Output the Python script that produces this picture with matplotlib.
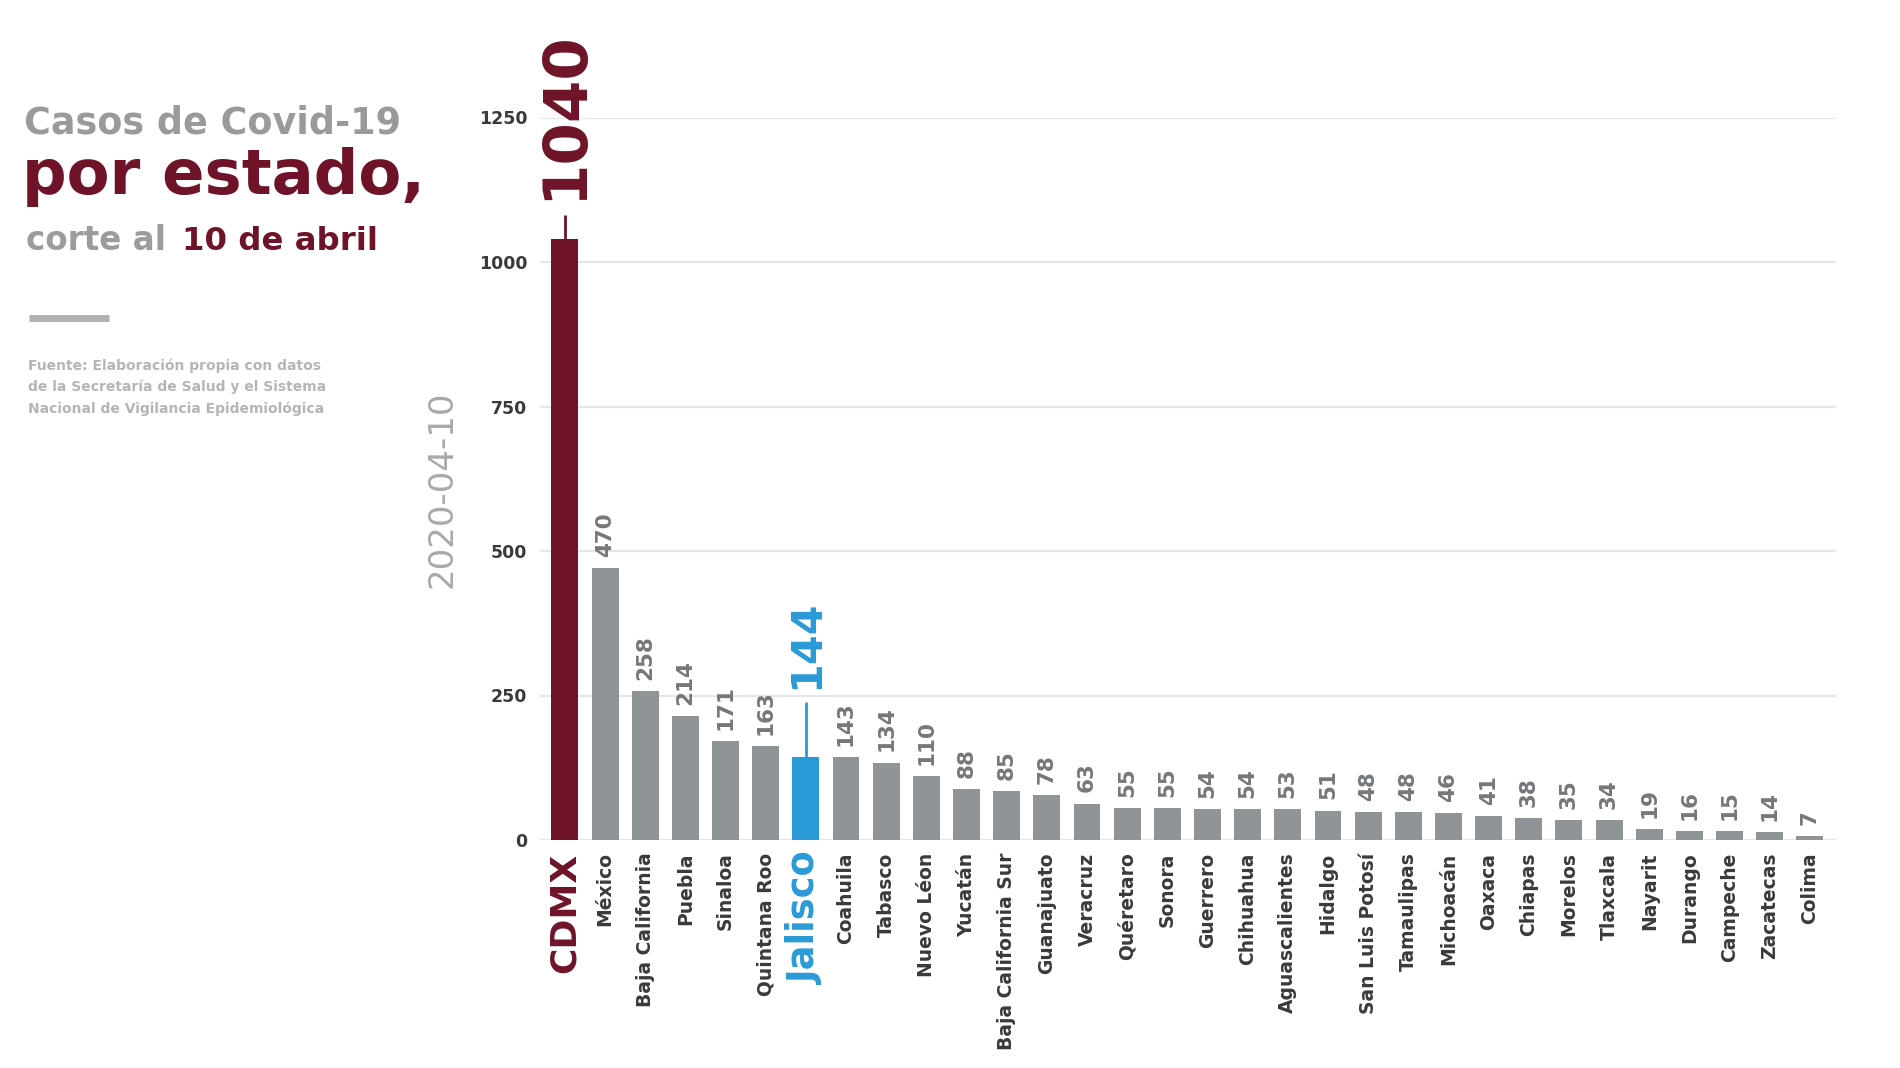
import matplotlib
matplotlib.use("Agg")
import matplotlib.pyplot as plt
from matplotlib.lines import Line2D

plt.rcParams['font.family'] = ['DejaVu Sans']

states = ["CDMX", "México", "Baja California", "Puebla", "Sinaloa", "Quintana Roo",
          "Jalisco", "Coahuila", "Tabasco", "Nuevo Léon", "Yucatán", "Baja California Sur",
          "Guanajuato", "Veracruz", "Quéretaro", "Sonora", "Guerrero", "Chihuahua",
          "Aguascalientes", "Hidalgo", "San Luis Potosí", "Tamaulipas", "Michoacán",
          "Oaxaca", "Chiapas", "Morelos", "Tlaxcala", "Nayarit", "Durango", "Campeche",
          "Zacatecas", "Colima"]
cases = [1040, 470, 258, 214, 171, 163, 144, 143, 134, 110, 88, 85, 78, 63, 55, 55,
         54, 54, 53, 51, 48, 48, 46, 41, 38, 35, 34, 19, 16, 15, 14, 7]
y_ticks = [0, 250, 500, 750, 1000, 1250]
highlight_main = "CDMX"
highlight_local = "Jalisco"

MAROON = "#6f1428"
GRAY = "#8f9496"
BLUE = "#2a9ad6"
TXT = "#3a3a3a"
VAL = "#74787b"
LIGHT = "#a9a9a9"

fig = plt.figure(figsize=(19, 10.68), dpi=100)
fig.patch.set_facecolor("white")
ax = fig.add_axes([540/1900, (1068-840)/1068, (1836-540)/1900, (840-117.5)/1068])

x = list(range(len(states)))
colors = [MAROON if s == highlight_main else BLUE if s == highlight_local else GRAY for s in states]
ax.bar(x, cases, width=0.67, color=colors, zorder=3)

ax.set_ylim(0, 1250)
ax.set_xlim(-0.62, len(states) - 0.35)
ax.set_yticks(y_ticks)
ax.set_yticklabels([str(v) for v in y_ticks], fontsize=12.5, fontweight="bold", color=TXT)
ax.grid(axis="y", color="#e6e6e6", linewidth=1.6, zorder=0)
ax.tick_params(axis="y", length=0, pad=9)
ax.tick_params(axis="x", length=0, pad=9)
for sp in ax.spines.values():
    sp.set_visible(False)

ax.set_xticks(x)
ax.set_xticklabels(states, rotation=90, va="top", ha="center")
for lbl, s in zip(ax.get_xticklabels(), states):
    if s == highlight_main:
        lbl.set_fontsize(26); lbl.set_color(MAROON); lbl.set_fontweight("heavy")
    elif s == highlight_local:
        lbl.set_fontsize(26.5); lbl.set_color(BLUE); lbl.set_fontweight("bold")
    else:
        lbl.set_fontsize(13.5); lbl.set_color(TXT); lbl.set_fontweight("bold")

for xi, s, v in zip(x, states, cases):
    if s == highlight_main:
        ax.plot([xi, xi], [v, v + 41], color=MAROON, lw=2, zorder=3, solid_capstyle="butt")
        ax.text(xi, v + 67, str(v), rotation=90, ha="center", va="bottom",
                fontsize=44, fontweight="heavy", color=MAROON, clip_on=False)
    elif s == highlight_local:
        ax.plot([xi, xi], [v, v + 95], color=BLUE, lw=2, zorder=3, solid_capstyle="butt")
        ax.text(xi, v + 118, str(v), rotation=90, ha="center", va="bottom",
                fontsize=31, fontweight="heavy", color=BLUE, clip_on=False)
    else:
        ax.annotate(str(v), (xi, v), xytext=(0, 8), textcoords="offset points",
                    rotation=90, ha="center", va="bottom", fontsize=15.5,
                    fontweight="bold", color=VAL)

# side labels
fig.text(442/1900, (1068-489)/1068, "2020-04-10", rotation=90, ha="center", va="center",
         fontsize=24.5, color=LIGHT)

fig.text(24/1900, (1068-133)/1068, "Casos de Covid-19", ha="left", va="baseline",
         fontsize=26.3, fontweight="bold", color="#999a9c")
fig.text(22/1900, (1068-194)/1068, "por estado,", ha="left", va="baseline",
         fontsize=45, fontweight="heavy", color=MAROON)
fig.text(26/1900, (1068-250)/1068, "corte al", ha="left", va="baseline",
         fontsize=23.5, fontweight="bold", color="#9c9c9c")
fig.text(182/1900, (1068-250)/1068, "10 de abril", ha="left", va="baseline",
         fontsize=23.3, fontweight="bold", color=MAROON)

fig.add_artist(Line2D([29/1900, 109/1900], [(1068-318)/1068]*2, transform=fig.transFigure,
                      color="#b0b0b0", lw=5, solid_capstyle="butt"))

src_lines = ["Fuente: Elaboración propia con datos",
             "de la Secretaría de Salud y el Sistema",
             "Nacional de Vigilancia Epidemiológica"]
for i, line in enumerate(src_lines):
    fig.text(28/1900, (1068-(370 + 21.5*i))/1068, line, ha="left", va="baseline",
             fontsize=10, fontweight="bold", color="#b5b5b5")

fig.savefig("out.png", dpi=100, facecolor="white")
